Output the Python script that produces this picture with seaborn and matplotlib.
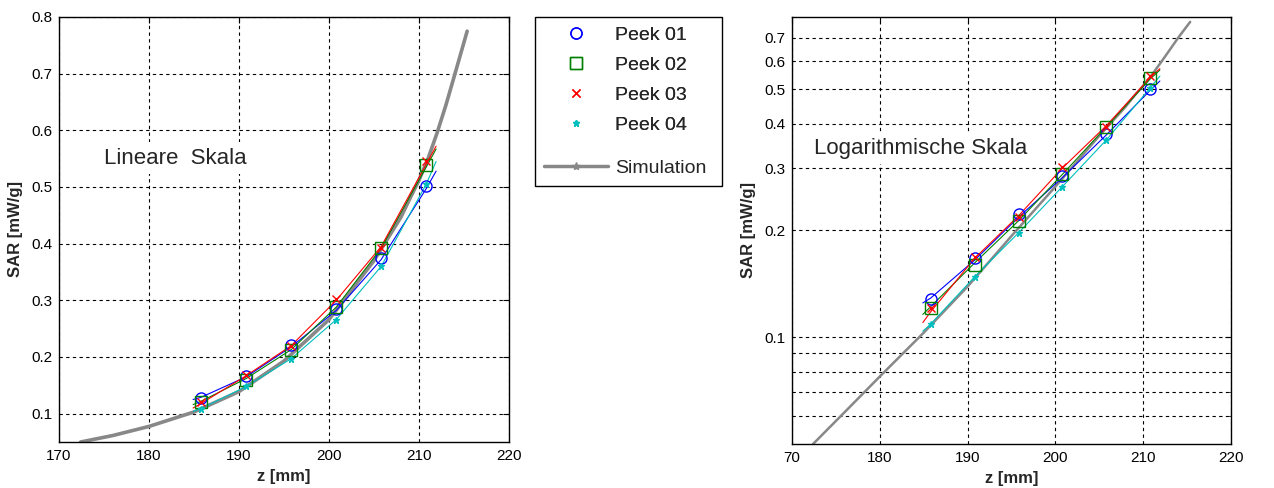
import numpy as np
import pandas as pd
import seaborn as sns
import matplotlib.pyplot as plt
from matplotlib.lines import Line2D
from matplotlib.patches import Rectangle
from matplotlib.ticker import FixedLocator, NullFormatter, FixedFormatter

# measured points (z in mm, SAR in mW/g)
z_meas = [185.8, 190.8, 195.8, 200.8, 205.8, 210.8]
peek01 = [0.128, 0.167, 0.222, 0.284, 0.375, 0.502]
peek02 = [0.121, 0.160, 0.213, 0.288, 0.392, 0.539]
peek03 = [0.121, 0.168, 0.219, 0.302, 0.392, 0.545]
peek04 = [0.109, 0.148, 0.197, 0.266, 0.360, 0.505]

# thin fit lines through each peek
z_fit = [184.9, 185.8, 190.8, 195.8, 200.8, 205.8, 210.8, 211.9]
fit01 = [0.125, 0.129, 0.165, 0.218, 0.282, 0.372, 0.497, 0.528]
fit02 = [0.116, 0.122, 0.162, 0.213, 0.288, 0.392, 0.535, 0.567]
fit03 = [0.110, 0.118, 0.167, 0.220, 0.300, 0.395, 0.540, 0.572]
fit04 = [0.104, 0.109, 0.148, 0.197, 0.266, 0.360, 0.505, 0.545]

# simulation curve
z_sim = [172.4, 176.0, 180.0, 185.0, 190.0, 195.0, 200.0, 205.0, 208.0, 209.0,
         210.0, 211.0, 212.0, 213.0, 214.0, 215.35]
sar_sim = [0.050, 0.0615, 0.0775, 0.103, 0.139, 0.193, 0.266, 0.370, 0.447, 0.480,
           0.512, 0.550, 0.595, 0.645, 0.700, 0.775]

series = [
    ("Peek 01", peek01, fit01, "#0000ff", "o", dict(mfc="none", ms=8)),
    ("Peek 02", peek02, fit02, "#008000", "s", dict(mfc="none", ms=8)),
    ("Peek 03", peek03, fit03, "#ff0000", "x", dict(ms=6)),
    ("Peek 04", peek04, fit04, "#00bfbf", "*", dict(ms=5)),
]
sim_color = "#888888"

sns.set_style("white")
plt.rcParams["font.family"] = ["Liberation Sans", "DejaVu Sans"]

fig = plt.figure(figsize=(12.74, 4.88), dpi=100)
W, H = 1274, 488
ax1 = fig.add_axes([59 / W, 1 - 442 / H, 450 / W, 425 / H])
ax2 = fig.add_axes([792 / W, 1 - 444 / H, 439 / W, 427 / H])

for ax, sim_lw in ((ax1, 2.6), (ax2, 1.8)):
    sns.lineplot(x=z_sim, y=sar_sim, ax=ax, color=sim_color, lw=sim_lw, zorder=2)
    for name, meas, fit, col, mk, kw in series:
        sns.lineplot(x=z_fit, y=fit, ax=ax, color=col, lw=0.8, zorder=3)
        sns.lineplot(x=z_meas, y=meas, ax=ax, color=col, marker=mk, linestyle="",
                     mec=col, mew=1.0, zorder=4, **kw)
    ax.set_xlim(170, 220)
    ax.set_ylim(0.05, 0.8)
    ax.set_xticks([170, 180, 190, 200, 210, 220])
    ax.grid(True, which="both", color="black", linestyle=(0, (3, 3)), lw=0.8)
    ax.tick_params(direction="in", length=4, top=True, right=True, labelsize=11,
                   pad=5, colors="black")
    for s in ax.spines.values():
        s.set_color("black")
        s.set_linewidth(1.0)
    ax.set_xlabel("z [mm]", fontsize=12, fontweight="bold", labelpad=4)
    ax.set_ylabel("SAR [mW/g]", fontsize=12, fontweight="bold", labelpad=6)

ax1.set_yticks([0.1, 0.2, 0.3, 0.4, 0.5, 0.6, 0.7, 0.8])
ax1.set_yticklabels(["0.1", "0.2", "0.3", "0.4", "0.5", "0.6", "0.7", "0.8"])
ax1.grid(False, which="minor")

ax2.set_yscale("log")
ax2.set_ylim(0.05, 0.8)
ax2.yaxis.set_major_locator(FixedLocator([0.1, 0.2, 0.3, 0.4, 0.5, 0.6, 0.7]))
ax2.yaxis.set_major_formatter(FixedFormatter(["0.1", "0.2", "0.3", "0.4", "0.5", "0.6", "0.7"]))
ax2.yaxis.set_minor_locator(FixedLocator([0.06, 0.07, 0.08, 0.09]))
ax2.yaxis.set_minor_formatter(NullFormatter())
ax2.tick_params(which="minor", direction="in", length=2, right=True)
ax2.set_xticks([170, 180, 190, 200, 210, 220])
ax2.set_xticklabels(["70", "180", "190", "200", "210", "220"])

box = dict(facecolor="white", edgecolor="none", pad=4)
ax1.text(175.0, 0.551, "Lineare  Skala", fontsize=16, va="center", ha="left",
         bbox=box, zorder=5)
ax2.text(172.5, np.exp((np.log(0.4) + np.log(0.3)) / 2) * 0.985, "Logarithmische Skala",
         fontsize=16, va="center", ha="left", bbox=box, zorder=5)

# legend: frame drawn separately, peeks and simulation in two frameless blocks
fig.add_artist(Rectangle((535 / W, 1 - 186 / H), 187 / W, 169 / H, transform=fig.transFigure,
                         facecolor="white", edgecolor="black", lw=1.0, zorder=1))
handles = [Line2D([], [], color=col, marker=mk, linestyle="", mec=col, mew=1.0, **kw)
           for name, meas, fit, col, mk, kw in series]
labels = [s[0] for s in series]
common = dict(loc="upper left", borderaxespad=0, fontsize=14, frameon=False,
              handlelength=3.3, handletextpad=0.35, borderpad=0.47)
leg1 = fig.legend(handles, labels, bbox_to_anchor=(535 / W, 1 - 17 / H),
                  labelspacing=0.64, **common)
sim_handle = Line2D([], [], color=sim_color, lw=2.5, marker="*", ms=6)
leg2 = fig.legend([sim_handle], ["Simulation"], bbox_to_anchor=(535 / W, 1 - 150 / H), **common)
fig.add_artist(leg1)

fig.savefig("out.png", dpi=100)
